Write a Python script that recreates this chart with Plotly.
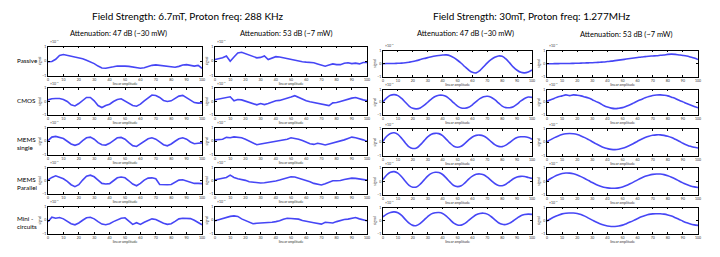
import plotly.graph_objects as go

# ---------------- data ----------------
x_vals = [0, 2.5, 5, 7.5, 10, 12.5, 15, 17.5, 20, 22.5, 25, 27.5, 30, 32.5, 35, 37.5, 40,
          42.5, 45, 47.5, 50, 52.5, 55, 57.5, 60, 62.5, 65, 67.5, 70, 72.5, 75, 77.5, 80,
          82.5, 85, 87.5, 90, 92.5, 95, 97.5, 100]

row_labels = ["Passive", "CMOS", "MEMS<br>single", "MEMS<br>Parallel", "Mini -<br>circuits"]
group_titles = ["Field Strength: 6.7mT, Proton freq: 288 KHz",
                "Field Strength: 30mT, Proton freq: 1.277MHz"]
col_titles = ["Attenuation: 47 dB (~30 mW)", "Attenuation: 53 dB (~7 mW)",
              "Attenuation: 47 dB (~30 mW)", "Attenuation: 53 dB (~7 mW)"]
x_ticks = [0, 10, 20, 30, 40, 50, 60, 70, 80, 90, 100]
y_ticks = [-1, 0, 1]

# 6.7 mT, 47 dB
passive_67_47 = [-0.05, -0.03, 0.12, 0.38, 0.45, 0.4, 0.33, 0.28, 0.22, 0.15, 0.05, -0.05, -0.18, -0.35,
                 -0.48, -0.5, -0.47, -0.4, -0.34, -0.33, -0.35, -0.37, -0.42, -0.47, -0.5, -0.47, -0.37,
                 -0.3, -0.27, -0.3, -0.33, -0.37, -0.42, -0.43, -0.37, -0.28, -0.25, -0.28, -0.35, -0.3, -0.5]
cmos_67_47 = [0.12, 0.2, 0.22, 0.22, 0.15, 0.0, -0.25, -0.33, -0.15, 0.05, 0.3, 0.3, 0.05, -0.3, -0.45,
              -0.3, -0.2, 0.0, 0.15, 0.2, 0.05, -0.15, -0.3, -0.35, -0.2, 0.05, 0.3, 0.48, 0.45, 0.3,
              0.08, 0.0, 0.05, 0.2, 0.4, 0.45, 0.3, 0.1, -0.08, -0.12, -0.1]
mems_s_67_47 = [0.05, 0.3, 0.35, 0.28, 0.2, 0.0, -0.2, -0.3, -0.2, 0.05, 0.25, 0.3, 0.15, -0.1, -0.25,
                -0.28, -0.15, 0.05, 0.25, 0.28, 0.15, -0.1, -0.32, -0.38, -0.2, 0.0, 0.18, 0.25, 0.15,
                -0.05, -0.25, -0.33, -0.2, 0.0, 0.18, 0.25, 0.15, -0.05, -0.18, -0.15, -0.12]
mems_p_67_47 = [0.05, 0.25, 0.37, 0.28, 0.15, -0.05, -0.3, -0.45, -0.3, 0.05, 0.35, 0.42, 0.3, 0.05, -0.2,
                -0.25, -0.22, 0.0, 0.22, 0.28, 0.22, 0.0, -0.25, -0.38, -0.2, 0.05, 0.2, 0.22, 0.15,
                -0.28, -0.3, -0.3, -0.28, -0.1, 0.05, 0.08, 0.0, -0.12, -0.2, -0.2, -0.22]
mini_67_47 = [-0.1, 0.22, 0.15, 0.2, 0.1, -0.05, -0.25, -0.33, -0.2, 0.0, 0.18, 0.22, 0.1, -0.1, -0.28,
              -0.33, -0.25, -0.1, 0.05, 0.15, 0.18, -0.08, -0.3, -0.18, -0.3, -0.15, 0.0, 0.1, 0.05,
              -0.1, -0.22, -0.3, -0.25, -0.08, 0.1, 0.15, 0.15, 0.12, 0.0, -0.15, -0.33]

# 6.7 mT, 53 dB
passive_67_53 = [0.1, 0.15, 0.22, 0.35, -0.02, 0.28, 0.55, 0.6, 0.5, 0.42, 0.35, 0.22, 0.25, 0.35, 0.1,
                 0.2, 0.3, 0.28, 0.22, 0.2, 0.12, 0.05, 0.0, -0.05, -0.08, -0.1, -0.12, -0.2, -0.28,
                 -0.36, -0.28, -0.2, -0.25, -0.25, -0.15, -0.12, -0.18, -0.15, -0.2, -0.1, -0.1]
cmos_67_53 = [0.13, 0.18, 0.22, 0.3, 0.35, 0.05, 0.15, 0.12, 0.02, -0.08, -0.18, -0.25, -0.15, -0.23,
              -0.15, -0.02, 0.05, 0.08, 0.15, 0.25, 0.33, 0.43, 0.3, 0.15, 0.05, -0.02, -0.08, -0.15,
              -0.2, -0.22, -0.3, -0.1, -0.08, 0.0, 0.1, 0.18, 0.25, 0.3, 0.18, 0.12, 0.06]
mems_s_67_53 = [0.1, 0.12, 0.15, 0.28, 0.25, 0.32, 0.3, 0.25, 0.15, 0.03, -0.1, -0.25, -0.2, -0.15,
                -0.12, -0.08, -0.05, 0.0, 0.05, 0.15, 0.25, 0.22, 0.15, 0.05, -0.08, -0.18, -0.23,
                -0.15, -0.2, -0.27, -0.2, -0.13, -0.05, 0.0, 0.1, 0.2, 0.3, 0.25, 0.2, 0.1, 0.0]
mems_p_67_53 = [0.07, 0.12, 0.18, 0.25, 0.42, 0.25, 0.15, 0.1, 0.03, -0.07, -0.1, -0.15, -0.17, -0.15,
                -0.12, -0.1, -0.02, 0.05, 0.15, 0.25, 0.3, 0.28, 0.2, 0.12, 0.02, -0.07, -0.2, -0.28,
                -0.32, -0.22, -0.08, 0.0, 0.0, 0.02, 0.1, 0.15, 0.2, 0.18, 0.12, 0.08, 0.05]
mini_67_53 = [-0.04, 0.05, 0.13, 0.2, 0.28, 0.32, 0.28, 0.1, 0.0, -0.1, -0.25, -0.22, -0.2, -0.22,
              -0.2, -0.15, -0.1, -0.04, 0.08, 0.15, 0.13, 0.12, 0.08, -0.02, -0.1, -0.13, -0.18,
              -0.25, -0.28, -0.15, -0.18, -0.2, -0.1, -0.02, 0.05, 0.08, 0.15, 0.2, 0.1, 0.04, -0.04]

# 30 mT, 47 dB
passive_30_47 = [-0.02, 0.0, 0.0, 0.0, 0.02, 0.03, 0.06, 0.1, 0.15, 0.22, 0.3, 0.38, 0.45, 0.52, 0.58,
                 0.62, 0.65, 0.66, 0.6, 0.45, 0.25, 0.02, -0.25, -0.5, -0.68, -0.72, -0.55, -0.25, 0.05,
                 0.3, 0.48, 0.58, 0.55, 0.35, 0.05, -0.28, -0.52, -0.68, -0.72, -0.65, -0.5]
cmos_30_47 = [0.05, 0.35, 0.55, 0.6, 0.52, 0.3, 0.0, -0.3, -0.48, -0.52, -0.45, -0.25, 0.0, 0.25, 0.45,
              0.55, 0.55, 0.45, 0.22, -0.05, -0.3, -0.45, -0.47, -0.4, -0.2, 0.05, 0.28, 0.43, 0.47,
              0.4, 0.2, -0.05, -0.3, -0.42, -0.43, -0.35, -0.15, 0.1, 0.3, 0.41, 0.38]
mems_s_30_47 = [0.08, 0.45, 0.66, 0.72, 0.6, 0.3, -0.05, -0.35, -0.47, -0.43, -0.2, 0.1, 0.4, 0.6, 0.67,
                0.65, 0.5, 0.22, -0.07, -0.3, -0.38, -0.3, -0.08, 0.18, 0.4, 0.52, 0.54, 0.48, 0.3,
                0.05, -0.18, -0.31, -0.33, -0.22, -0.02, 0.2, 0.35, 0.41, 0.41, 0.35, 0.23]
mems_p_30_47 = [0.14, 0.48, 0.68, 0.73, 0.62, 0.35, 0.02, -0.28, -0.42, -0.4, -0.2, 0.1, 0.4, 0.6, 0.68,
                0.66, 0.52, 0.25, -0.05, -0.3, -0.38, -0.32, -0.1, 0.18, 0.4, 0.53, 0.56, 0.5, 0.32,
                0.08, -0.15, -0.29, -0.31, -0.2, 0.0, 0.2, 0.33, 0.38, 0.37, 0.3, 0.23]
mini_30_47 = [0.3, 0.5, 0.63, 0.67, 0.6, 0.4, 0.1, -0.18, -0.35, -0.36, -0.2, 0.05, 0.32, 0.52, 0.6,
              0.62, 0.55, 0.35, 0.08, -0.18, -0.32, -0.33, -0.2, 0.02, 0.25, 0.45, 0.55, 0.57, 0.5,
              0.32, 0.08, -0.15, -0.27, -0.28, -0.18, 0.0, 0.2, 0.38, 0.47, 0.5, 0.48]

# 30 mT, 53 dB
passive_30_53 = [-0.02, -0.02, -0.01, -0.01, 0.0, 0.0, 0.0, 0.01, 0.02, 0.03, 0.04, 0.05, 0.06, 0.08,
                 0.1, 0.12, 0.15, 0.18, 0.22, 0.26, 0.3, 0.34, 0.38, 0.42, 0.46, 0.5, 0.53, 0.56, 0.58,
                 0.6, 0.63, 0.66, 0.7, 0.72, 0.7, 0.66, 0.62, 0.57, 0.5, 0.42, 0.3]
cmos_30_53 = [0.08, 0.2, 0.32, 0.43, 0.5, 0.58, 0.52, 0.58, 0.55, 0.5, 0.42, 0.33, 0.2, 0.05, -0.08,
              -0.25, -0.38, -0.46, -0.5, -0.47, -0.42, -0.32, -0.2, -0.05, 0.1, 0.22, 0.35, 0.45, 0.53,
              0.57, 0.58, 0.55, 0.5, 0.4, 0.3, 0.15, 0.03, -0.1, -0.22, -0.33, -0.43]
mems_s_30_53 = [0.04, 0.2, 0.35, 0.48, 0.58, 0.64, 0.66, 0.64, 0.58, 0.48, 0.35, 0.2, 0.04, -0.12,
                -0.27, -0.4, -0.48, -0.54, -0.56, -0.53, -0.46, -0.36, -0.23, -0.08, 0.08, 0.23, 0.36,
                0.46, 0.53, 0.56, 0.56, 0.52, 0.45, 0.35, 0.22, 0.08, -0.07, -0.2, -0.31, -0.38, -0.43]
mems_p_30_53 = [0.05, 0.22, 0.38, 0.5, 0.59, 0.63, 0.62, 0.57, 0.48, 0.36, 0.22, 0.07, -0.08, -0.22,
                -0.33, -0.42, -0.47, -0.5, -0.5, -0.47, -0.4, -0.3, -0.17, -0.03, 0.12, 0.26, 0.38,
                0.47, 0.53, 0.55, 0.55, 0.51, 0.43, 0.32, 0.19, 0.04, -0.1, -0.23, -0.33, -0.4, -0.45]
mini_30_53 = [-0.02, 0.15, 0.3, 0.42, 0.52, 0.57, 0.58, 0.58, 0.55, 0.47, 0.35, 0.2, 0.05, -0.1, -0.22,
              -0.32, -0.39, -0.43, -0.43, -0.4, -0.33, -0.22, -0.1, 0.03, 0.17, 0.3, 0.4, 0.48, 0.52,
              0.53, 0.53, 0.5, 0.44, 0.35, 0.23, 0.1, -0.03, -0.15, -0.25, -0.31, -0.35]

columns = [
    [passive_67_47, cmos_67_47, mems_s_67_47, mems_p_67_47, mini_67_47],
    [passive_67_53, cmos_67_53, mems_s_67_53, mems_p_67_53, mini_67_53],
    [passive_30_47, cmos_30_47, mems_s_30_47, mems_p_30_47, mini_30_47],
    [passive_30_53, cmos_30_53, mems_s_30_53, mems_p_30_53, mini_30_53],
]

# ---------------- layout geometry (pixels) ----------------
W, H = 720, 257
col_px = [(48, 202), (215, 367), (383, 532), (547, 698)]
rows_left = [(46.5, 75.5), (88, 115), (127.5, 155), (167.5, 194), (206.5, 234)]
rows_right = [(50.5, 76.5), (89.5, 115), (129, 155.5), (168, 195), (207.5, 234)]

LINE = "rgb(70,70,245)"
fig = go.Figure()
layout = dict(width=W, height=H, margin=dict(l=0, r=0, t=0, b=0, pad=0, autoexpand=False),
              paper_bgcolor="white", plot_bgcolor="white", showlegend=False,
              font=dict(family="Lato, Arial, sans-serif", color="black"))
annotations = []

n = 0
for c, series_list in enumerate(columns):
    rows = rows_left if c < 2 else rows_right
    for r, ys in enumerate(series_list):
        n += 1
        sfx = "" if n == 1 else str(n)
        fig.add_trace(go.Scatter(
            x=x_vals, y=ys, mode="lines", xaxis="x" + sfx, yaxis="y" + sfx,
            line=dict(color=LINE, width=1.6, shape="spline" if c >= 2 else "linear"),
            hoverinfo="skip"))
        x0, x1 = col_px[c]
        y0, y1 = rows[r]
        layout["xaxis" + sfx] = dict(
            domain=[x0 / W, x1 / W], anchor="y" + sfx, range=[0, 100], automargin=False,
            tickvals=x_ticks, ticks="inside", ticklen=2, tickwidth=0.6, tickcolor="black",
            showline=True, linecolor="black", linewidth=0.8, mirror="ticks",
            showgrid=False, zeroline=False,
            tickfont=dict(size=3.5, color="#333"),
            title=dict(text="linear amplitude", font=dict(size=3.5, color="#333"), standoff=1))
        layout["yaxis" + sfx] = dict(
            domain=[1 - y1 / H, 1 - y0 / H], anchor="x" + sfx, range=[-1, 1], automargin=False,
            tickvals=y_ticks, ticks="inside", ticklen=2, tickwidth=0.6, tickcolor="black",
            showline=True, linecolor="black", linewidth=0.8, mirror="ticks",
            showgrid=False, zeroline=False,
            tickfont=dict(size=3.5, color="#333"),
            title=dict(text="signal", font=dict(size=3.5, color="#333"), standoff=1))
        annotations.append(dict(
            text="×10⁻³", x=x0 / W, y=1 - (y0 - 0.5) / H, xref="paper", yref="paper",
            xanchor="left", yanchor="bottom", showarrow=False,
            font=dict(size=3.5, color="#333")))

# group titles
for txt, cx in zip(group_titles, [188, 532]):
    annotations.append(dict(text=txt, x=cx / W, y=1 - 16 / H, xref="paper", yref="paper",
                            xanchor="center", yanchor="middle", showarrow=False,
                            font=dict(size=10, color="black")))
# column titles
for txt, cx, cy in zip(col_titles, [118, 286, 465, 626], [34, 34, 33.5, 35]):
    annotations.append(dict(text=txt, x=cx / W, y=1 - cy / H, xref="paper", yref="paper",
                            xanchor="center", yanchor="middle", showarrow=False,
                            font=dict(size=7.5, color="black")))
# row labels
for txt, cy in zip(row_labels, [60, 101, 143.5, 183.5, 222]):
    annotations.append(dict(text=txt, x=15 / W, y=1 - cy / H, xref="paper", yref="paper",
                            xanchor="left", yanchor="middle", align="left", showarrow=False,
                            font=dict(size=6.3, color="black")))

layout["annotations"] = annotations
fig.update_layout(**layout)
fig.write_html("out.html", config={"displayModeBar": False},
               post_script="document.body.style.margin='0';document.body.style.overflow='hidden';")
